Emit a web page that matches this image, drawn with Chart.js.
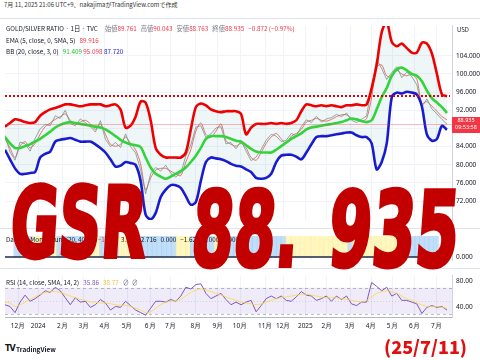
<!DOCTYPE html>
<html>
<head>
<meta charset="utf-8">
<script src="https://cdn.jsdelivr.net/npm/chart.js@4.4.0/dist/chart.umd.min.js"></script>
<style>
  body { margin: 0; background: #fff; }
  #wrap { position: relative; width: 480px; height: 360px; overflow: hidden; background: #fff;
          font-family: "Noto Sans CJK JP", "Noto Sans", sans-serif; color: #131722; }
  canvas { position: absolute; left: 0; }
  .t { position: absolute; white-space: nowrap; font-size: 6.3px; line-height: 1; }
  .r { color: #f23645; } .g { color: #22c22c; } .bl { color: #1a1ad8; }
  .pu { color: #7e57c2; } .ye { color: #e8c547; } .mu { color: #787b86; }
  .sp { margin-left: 4px; }
  .big { position: absolute; white-space: nowrap; font-family: "DejaVu Sans", sans-serif; font-weight: bold;
         color: #c20000; line-height: 1; transform-origin: 0 0; -webkit-text-stroke: 4px #c20000; }
</style>
</head>
<body>
<div id="wrap">
  <canvas id="price" width="480" height="210" style="top:18px"></canvas>
  <canvas id="osc" width="480" height="40" style="top:228px"></canvas>
  <canvas id="rsi" width="480" height="67" style="top:268px"></canvas>

  <div class="t" style="left:4px;top:2px;font-size:6px;color:#333">7月 11, 2025 21:06 UTC+9、nakajimaがTradingView.comで作成</div>
  <div class="t" style="left:6px;top:26px">GOLD/SILVER RATIO · 1日 · TVC<span class="mu sp" style="margin-left:7px">始値</span><span class="r">89.761</span><span class="mu sp">高値</span><span class="r">90.043</span><span class="mu sp">安値</span><span class="r">88.763</span><span class="mu sp">終値</span><span class="r">88.935</span><span class="r sp">−0.872 (−0.97%)</span></div>
  <div class="t" style="left:6px;top:38px">EMA (5, close, 0, SMA, 5)<span class="r sp">89.916</span></div>
  <div class="t" style="left:6px;top:49px">BB (20, close, 3, 0)<span class="g sp">91.409</span> <span class="r">95.098</span> <span class="bl">87.720</span></div>
  <div class="t" style="left:6px;top:237px">Damian Momentum (20, 40, 9)<span class="r sp">−1.208</span><span class="sp">3.344</span><span class="sp">2.716</span><span class="sp">0.000</span><span class="sp">−1.621</span><span class="sp">0.000</span><span class="sp">0.000</span></div>
  <div class="t" style="left:6px;top:280px">RSI (14, close, SMA, 14, 2)<span class="pu sp">35.86</span><span class="ye sp">38.77</span><span class="mu sp">∅ &nbsp;∅</span></div>

  <div class="t" style="left:457px;top:27px;font-size:6px">USD</div>
  <div style="position:absolute;left:452px;top:117px;width:28px;height:16px;background:#f23645;color:#fff;font-size:5.5px;line-height:7px;text-align:center;font-family:'Noto Sans',sans-serif">88.935<br>09:53:58</div>

  <div class="big" style="left:14px;top:174px;font-size:98px;transform:scaleX(0.6) skewX(-6deg)">GSR</div>
  <div class="big" style="left:196px;top:178px;font-size:104px;transform:scaleX(0.58) skewX(-7deg)">88.</div>
  <div class="big" style="left:333px;top:178px;font-size:104px;transform:scaleX(0.6) skewX(-7deg)">935</div>

  <div class="t" style="left:5px;top:345px;font-size:8px;font-weight:bold;font-family:'DejaVu Sans',sans-serif;letter-spacing:-1px">TV</div>
  <div class="t" style="left:16px;top:346px;font-size:6.5px;font-weight:bold">TradingView</div>
  <div class="t" style="left:384px;top:337px;font-size:18px;font-weight:900;color:#e01010;font-family:'Noto Sans CJK JP',sans-serif">(25/7/11)</div>
</div>

<script>
// weekly samples, Nov 2023 -> Jul 11 2025
const bbUpper = [88.4, 89.2, 90.0, 89.8, 89.4, 89.2, 89.4, 90.8, 91.6, 92.2, 92.5, 92.9, 93.3, 93.3, 93.1, 92.9, 93.1, 93.3, 93.3, 93.3,
  92.9, 93.1, 93.3, 92.2, 88.2, 88.6, 90.6, 93.9, 93.7, 89.8, 83.7, 82.2, 81.6, 81.6, 81.6, 81.6, 82.7, 87.8, 92.7, 93.5,
  93.1, 92.2, 91.8, 91.6, 91.8, 91.8, 91.8, 91.2, 86.7, 88.2, 89.0, 89.0, 89.0, 89.2, 89.0, 89.2, 89.0, 89.2, 89.8, 91.8,
  93.3, 93.1, 92.9, 93.1, 92.9, 93.1, 92.9, 92.7, 93.1, 93.1, 93.3, 93.1, 93.3, 96.9, 102.0, 109.2, 111.5, 107.1, 106.1, 106.7,
  105.7, 104.7, 104.7, 106.9, 106.7, 104.5, 100.0, 95.5, 95.1];
const bbBasis = [86.1, 84.7, 83.7, 83.7, 84.1, 84.5, 85.1, 85.7, 86.5, 87.3, 88.2, 88.8, 89.2, 89.4, 89.2, 89.0, 88.8, 88.6, 88.4, 88.2,
  87.8, 87.1, 86.3, 85.5, 84.9, 84.5, 84.3, 83.9, 81.6, 79.4, 78.0, 77.4, 76.9, 77.4, 78.0, 78.6, 79.4, 80.6, 82.0, 83.7,
  85.7, 86.3, 86.3, 86.3, 86.1, 85.7, 85.3, 85.1, 84.3, 83.5, 82.9, 82.7, 82.7, 82.7, 83.3, 84.1, 84.9, 85.7, 86.3, 86.9,
  87.8, 88.2, 88.4, 88.6, 88.8, 89.0, 89.2, 89.4, 89.8, 90.2, 90.0, 89.6, 89.4, 89.8, 92.2, 94.9, 96.9, 99.6, 101.0, 101.4,
  100.8, 100.0, 99.6, 98.4, 96.3, 94.7, 93.7, 92.7, 91.4];
const bbLower = [83.3, 81.2, 79.2, 78.0, 78.0, 78.2, 78.4, 81.6, 82.4, 82.9, 85.1, 85.5, 85.7, 85.9, 85.5, 85.1, 85.1, 85.1, 84.5, 83.7,
  82.7, 81.2, 79.6, 79.8, 80.6, 80.4, 80.0, 76.5, 69.0, 68.0, 69.4, 72.9, 74.5, 75.5, 75.5, 74.9, 73.1, 71.2, 71.8, 76.5,
  80.6, 81.6, 81.4, 81.2, 80.8, 80.2, 79.8, 79.6, 79.0, 78.4, 77.1, 76.9, 77.1, 78.0, 80.6, 82.0, 82.2, 82.2, 81.8, 81.2,
  82.7, 84.5, 86.1, 86.3, 86.3, 86.5, 86.7, 86.9, 87.1, 87.1, 86.5, 86.1, 86.1, 84.7, 79.0, 80.6, 84.7, 94.9, 95.9, 95.7,
  96.1, 95.9, 95.5, 92.9, 86.7, 85.3, 85.7, 88.6, 87.7];
const ema5 = [85.7, 83.7, 81.6, 84.1, 85.1, 83.7, 84.7, 86.7, 88.4, 89.2, 90.0, 90.6, 91.2, 89.8, 89.0, 89.4, 89.8, 89.0, 87.8, 89.0,
  86.7, 84.5, 84.1, 84.5, 86.1, 84.7, 83.3, 80.2, 74.5, 77.1, 78.8, 79.2, 79.2, 78.6, 78.0, 77.6, 80.6, 83.3, 87.4, 89.2,
  86.7, 86.1, 87.4, 89.0, 85.3, 84.5, 84.1, 84.7, 83.7, 81.6, 81.0, 82.7, 84.7, 86.1, 86.9, 85.7, 84.7, 86.3, 86.9, 87.8,
  89.4, 89.8, 90.2, 89.8, 89.6, 90.0, 90.6, 91.0, 91.0, 90.2, 89.8, 89.6, 90.2, 94.9, 101.6, 102.0, 99.6, 99.4, 100.8, 100.0,
  99.6, 100.0, 98.8, 93.5, 93.9, 92.9, 91.8, 90.6, 89.9];
const closes = [86.5, 82.8, 81.0, 85.0, 84.6, 83.0, 85.8, 87.9, 88.9, 88.6, 90.8, 90.2, 92.0, 89.1, 88.6, 90.1, 89.3, 88.4, 87.2, 89.7,
  85.6, 84.0, 84.9, 83.8, 86.8, 84.0, 82.6, 78.9, 73.6, 78.0, 79.4, 78.6, 79.9, 78.1, 77.3, 78.2, 81.9, 84.4, 88.3, 88.6,
  86.0, 86.8, 88.1, 88.4, 84.6, 84.9, 83.5, 85.3, 83.0, 80.9, 81.7, 83.4, 85.4, 86.7, 86.3, 85.1, 85.4, 86.9, 86.4, 88.4,
  89.9, 89.3, 90.7, 89.4, 90.1, 90.4, 91.1, 90.6, 91.4, 89.8, 89.3, 90.0, 90.8, 97.0, 103.2, 101.2, 98.8, 100.3, 101.6, 99.2,
  100.4, 99.4, 97.6, 92.8, 94.5, 92.3, 91.2, 90.0, 88.935];
const rsi = [44, 41.3, 32, 48, 58.7, 49.3, 53.3, 58.7, 65.3, 62.7, 70.7, 65.3, 54.7, 44, 54.7, 48, 49.3, 40, 44, 52,
  46.7, 36, 41.3, 40, 49.3, 42.7, 36, 32, 28, 38.7, 49.3, 49.3, 48, 52, 49.3, 57.3, 70.7, 68, 74.7, 76,
  61.3, 53.3, 57.3, 61.3, 52, 44, 48, 44, 48, 50.7, 33.3, 42.7, 53.3, 57.3, 53.3, 57.3, 50.7, 49.3, 56, 64,
  58.7, 57.3, 50.7, 53.3, 57.3, 49.3, 57.3, 52, 57.3, 45.3, 42.7, 48, 48, 78, 72, 65.3, 70.7, 57.3, 61.3, 50.7,
  50.7, 48, 45.3, 30.7, 40, 42.7, 40, 41.3, 35.86];
const rsiMa = [48, 46.7, 41.3, 44, 48, 52, 56, 60, 62.7, 64, 64, 62.7, 60, 57.3, 54.7, 52, 50.7, 48, 48, 46.7,
  46.7, 45.3, 44, 42.7, 42.7, 41.3, 38.7, 36, 32, 33.3, 38.7, 44, 48, 49.3, 50.7, 52, 57.3, 62.7, 66.7, 68,
  66.7, 64, 61.3, 58.7, 56, 53.3, 50.7, 48, 46.7, 45.3, 44, 45.3, 48, 50.7, 53.3, 54.7, 56, 57.3, 58.7, 60,
  60, 58.7, 57.3, 56, 54.7, 54.7, 54.7, 53.3, 52, 50.7, 49.3, 48, 50.7, 56, 61.3, 64, 65.3, 64, 61.3, 57.3,
  53.3, 50.7, 46.7, 44, 41.3, 41.3, 41.3, 40, 38.77];
// b = blue zone, y = yellow zone
const oscZones = ['b','b','b','b','y','y','y','y','y','b','b','b','b','b','b','y','y','y','b','b',
  'b','b','y','y','y','y','b','b','b','b','b','b','b','b','y','y','y','b','b','b',
  'b','b','y','y','y','b','b','b','b','b','b','b','b','b','b','b','b','y','y','y',
  'y','y','y','y','y','y','y','y','y','y','b','y','y','y','y','y','y','y','y','y',
  'y','y','y','b','b','b','b','b','b'];

const monthPos = [2.6, 6.6, 11.4, 15.7, 19.9, 24.3, 28.9, 32.9, 38.0, 42.4, 46.8, 51.8, 55.4, 59.8, 64.1, 68.7, 72.9, 77.1, 81.5, 85.9];
const monthLabels = ['12月', '2024', '2月', '3月', '4月', '5月', '6月', '7月', '8月', '9月', '10月', '11月', '12月', '2025', '2月', '3月', '4月', '5月', '6月', '7月'];
const priceTicks = [72, 76, 80, 84, 88, 92, 96, 100, 104];
const rsiTicks = [40, 80];
const hLine = 95.1;
const lastPrice = 88.935;

const pts = arr => arr.map((v, i) => ({ x: i, y: v }));
const gridCol = '#f0f3fa';
const tickFont = { family: 'Noto Sans, sans-serif', size: 6.5 };

const xAxis = (showLabels) => ({
  type: 'linear', min: 0, max: 89,
  afterBuildTicks: a => { a.ticks = monthPos.map(v => ({ value: v })); },
  afterFit: a => { a.height = showLabels ? 18 : 0; },
  grid: { color: gridCol, drawTicks: false },
  border: { display: showLabels, color: '#b2b5be' },
  ticks: { display: showLabels, autoSkip: false, maxRotation: 0, padding: 5, color: '#131722', font: tickFont,
           callback: (v, i) => monthLabels[i] }
});
const yAxis = (min, max, ticks, fmt, grid) => ({
  position: 'right', min, max,
  afterBuildTicks: a => { a.ticks = ticks.map(v => ({ value: v })); },
  afterFit: a => { a.width = 28; },
  grid: { display: grid, color: gridCol, drawTicks: false },
  border: { color: '#d1d4dc' },
  ticks: { padding: 4, color: '#131722', font: tickFont, callback: v => v.toFixed(fmt) }
});
const base = {
  responsive: false, animation: false,
  plugins: { legend: { display: false }, tooltip: { enabled: false } },
  elements: { point: { radius: 0 } }
};

// pane separator at the top of each pane
const paneTop = {
  id: 'paneTop',
  afterDraw(chart) {
    const { ctx, chartArea: a } = chart;
    ctx.save();
    ctx.strokeStyle = '#e0e3eb'; ctx.lineWidth = 1;
    ctx.beginPath(); ctx.moveTo(0, 0.5); ctx.lineTo(chart.width, 0.5); ctx.stroke();
    ctx.restore();
  }
};

const priceLines = {
  id: 'priceLines',
  afterDatasetsDraw(chart) {
    const { ctx, chartArea: a, scales: { y } } = chart;
    ctx.save();
    ctx.strokeStyle = 'rgba(242,54,69,0.35)'; ctx.lineWidth = 1;
    let py = Math.round(y.getPixelForValue(lastPrice)) + 0.5;
    ctx.beginPath(); ctx.moveTo(a.left, py); ctx.lineTo(a.right, py); ctx.stroke();
    ctx.strokeStyle = '#e00000'; ctx.lineWidth = 2; ctx.setLineDash([2, 2]);
    py = Math.round(y.getPixelForValue(hLine));
    ctx.beginPath(); ctx.moveTo(a.left, py); ctx.lineTo(a.right - 2, py); ctx.stroke();
    ctx.restore();
  }
};

new Chart(document.getElementById('price'), {
  type: 'line',
  data: { datasets: [
    { data: pts(bbUpper), borderColor: '#ee0000', borderWidth: 2.6, tension: 0.3, fill: '+2', backgroundColor: 'rgba(110,170,180,0.11)' },
    { data: pts(bbBasis), borderColor: '#2cd92c', borderWidth: 2.6, tension: 0.3 },
    { data: pts(bbLower), borderColor: '#1414d2', borderWidth: 2.6, tension: 0.3 },
    { data: pts(closes), borderColor: 'rgba(110,140,120,0.75)', borderWidth: 1, tension: 0 },
    { data: pts(ema5), borderColor: 'rgba(239,83,80,0.85)', borderWidth: 1, tension: 0.3 }
  ] },
  options: { ...base, layout: { padding: { left: 5, right: 0, top: 0, bottom: 0 } },
    scales: { x: xAxis(false), y: yAxis(67.8, 110.6, priceTicks, 3, true) } },
  plugins: [priceLines, paneTop]
});

const zeroLine = {
  id: 'zeroLine',
  afterDatasetsDraw(chart) {
    const { ctx, chartArea: a, scales: { y } } = chart;
    const py = Math.round(y.getPixelForValue(0));
    ctx.save();
    ctx.strokeStyle = '#1c2a4a'; ctx.lineWidth = 1.6;
    ctx.beginPath(); ctx.moveTo(a.left, py); ctx.lineTo(a.right - 6, py); ctx.stroke();
    ctx.restore();
  }
};
new Chart(document.getElementById('osc'), {
  type: 'bar',
  data: { datasets: [{
    data: oscZones.map((z, i) => ({ x: i, y: 1 })),
    backgroundColor: oscZones.map(z => z === 'b' ? 'rgba(144,196,246,0.55)' : 'rgba(255,238,140,0.55)'),
    barPercentage: 1, categoryPercentage: 1, base: 0
  }] },
  options: { ...base, layout: { padding: { left: 5, right: 0, top: 0, bottom: 0 } },
    scales: { x: xAxis(false), y: yAxis(-0.15, 1, [0], 3, false) } },
  plugins: [zeroLine, paneTop]
});

const rsiBand = {
  id: 'rsiBand',
  beforeDatasetsDraw(chart) {
    const { ctx, chartArea: a, scales: { y } } = chart;
    const y70 = y.getPixelForValue(70), y30 = y.getPixelForValue(30), y50 = y.getPixelForValue(50);
    ctx.save();
    ctx.fillStyle = 'rgba(126,87,194,0.12)';
    ctx.fillRect(a.left, y70, a.right - a.left, y30 - y70);
    ctx.strokeStyle = 'rgba(120,123,134,0.5)'; ctx.lineWidth = 1; ctx.setLineDash([3, 3]);
    [y70, y30].forEach(py => { ctx.beginPath(); ctx.moveTo(a.left, Math.round(py) + 0.5); ctx.lineTo(a.right, Math.round(py) + 0.5); ctx.stroke(); });
    ctx.strokeStyle = 'rgba(120,123,134,0.25)'; ctx.setLineDash([1, 2]);
    ctx.beginPath(); ctx.moveTo(a.left, Math.round(y50) + 0.5); ctx.lineTo(a.right, Math.round(y50) + 0.5); ctx.stroke();
    ctx.restore();
  }
};
new Chart(document.getElementById('rsi'), {
  type: 'line',
  data: { datasets: [
    { data: pts(rsiMa), borderColor: 'rgba(253,216,53,0.75)', borderWidth: 1, tension: 0.3 },
    { data: pts(rsi), borderColor: '#7e57c2', borderWidth: 1, tension: 0 }
  ] },
  options: { ...base, layout: { padding: { left: 5, right: 0, top: 2, bottom: 0 } },
    scales: { x: xAxis(true), y: yAxis(25.3, 88, rsiTicks, 2, false) } },
  plugins: [rsiBand, paneTop]
});
</script>
</body>
</html>
